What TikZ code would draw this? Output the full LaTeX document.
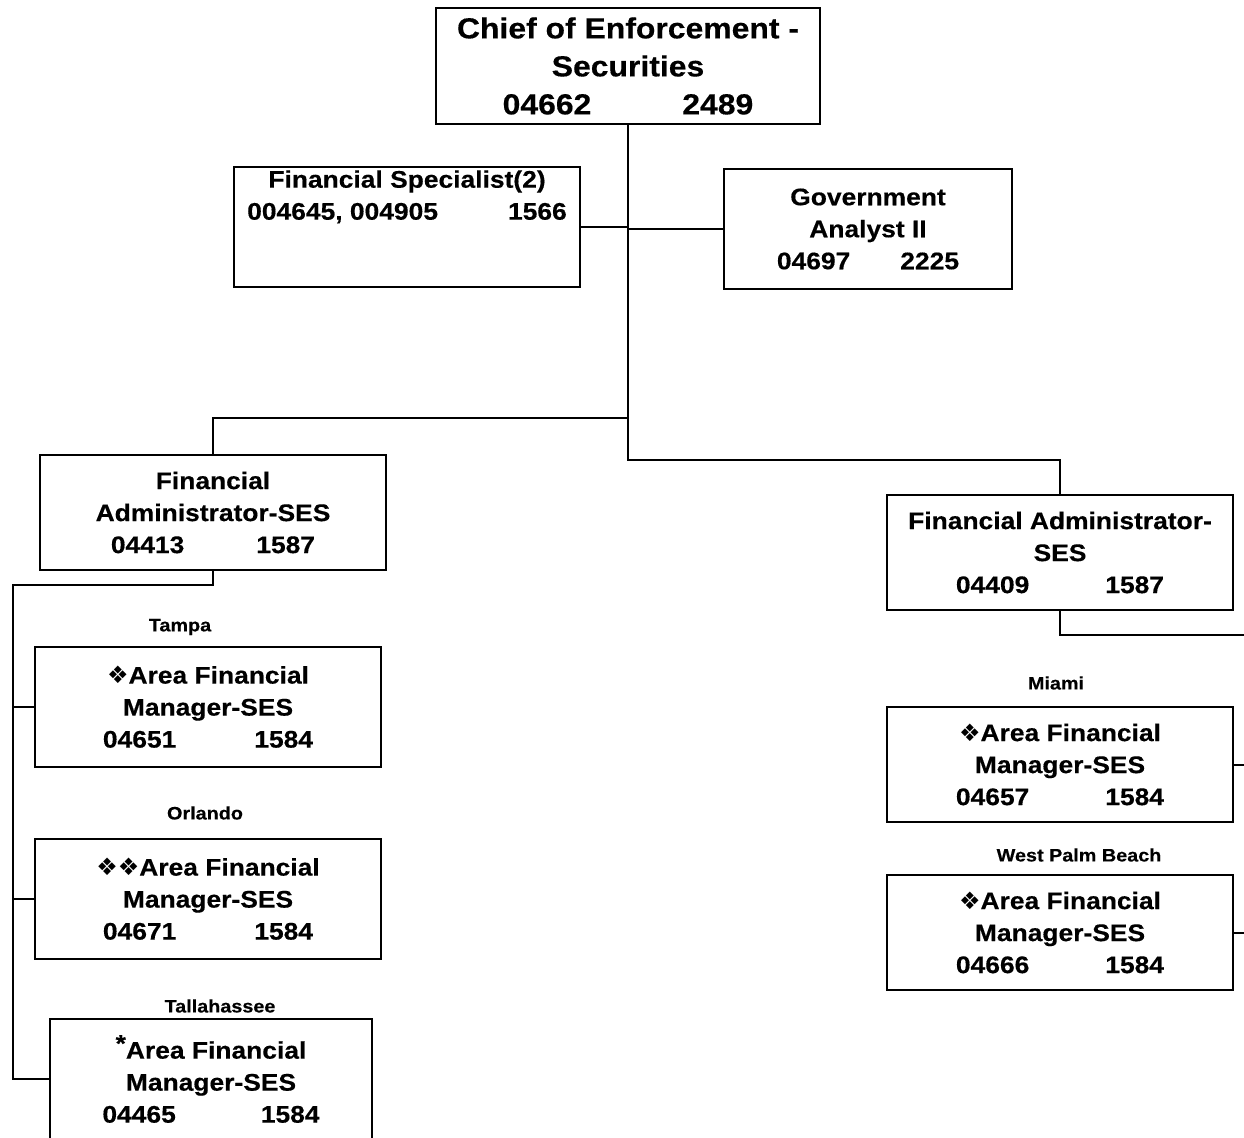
\documentclass[tikz,border=0pt]{standalone}
\usepackage{fontspec}
\setmainfont{Liberation Sans}[FakeStretch=1.1,FakeBold=0.4]
\newfontfamily\dingfont{DejaVu Sans}
\usetikzlibrary{calc}

\newcommand{\dia}{\smash{\dingfont\fontsize{24}{24}\selectfont ❖}}
\newcommand{\codes}[3]{#1\hspace{#2pt}#3}

\begin{document}
\begin{tikzpicture}[x=1pt,y=-1pt,line width=2pt]
\tikzstyle{post}=[draw,line width=2pt,outer sep=0pt,inner sep=0pt,align=center,anchor=north west,minimum width=346pt,minimum height=115pt,font=\fontsize{24}{32}\selectfont\bfseries]
\tikzstyle{city}=[font=\fontsize{18}{20}\selectfont\bfseries]

\useasboundingbox (0,0) rectangle (1244,1137);

\node (chief) [post,minimum width=384pt,minimum height=116pt,font=\fontsize{29}{38}\selectfont\bfseries] at (436,8) {Chief of Enforcement -\\Securities\\\codes{04662}{91}{2489}};

\node (spec) [post,minimum height=120pt] at (234,167) {Financial Specialist(2)\\\codes{004645, 004905}{70}{1566}\\\mbox{}\\\mbox{}};
\node (gov) [post,minimum width=288pt,minimum height=120pt] at (724,169) {Government\\Analyst II\\\codes{04697}{50}{2225}};

\node (finL) [post] at (40,455) {Financial\\Administrator-SES\\\codes{04413}{72}{1587}};
\node (finR) [post] at (887,495) {Financial Administrator-\\SES\\\codes{04409}{76}{1587}};

\node (tampa) [post,minimum height=120pt] at (35,647) {\dia Area Financial\\Manager-SES\\\codes{04651}{78}{1584}};
\node (orlando) [post,minimum height=120pt] at (35,839) {\dia\dia Area Financial\\Manager-SES\\\codes{04671}{78}{1584}};
\node (tal) [post,minimum width=322pt,minimum height=120pt] at (50,1019) {\raisebox{7pt}{*}Area Financial\\Manager-SES\\\codes{04465}{85}{1584}};
\node (miami) [post] at (887,707) {\dia Area Financial\\Manager-SES\\\codes{04657}{76}{1584}};
\node (wpb) [post] at (887,875) {\dia Area Financial\\Manager-SES\\\codes{04666}{76}{1584}};

\node (cTampa) [city] at (180,627) {Tampa};
\node (cOrlando) [city] at (205,813) {Orlando};
\node (cTal) [city] at (220,1006) {Tallahassee};
\node (cMiami) [city] at (1056,683) {Miami};
\node (cWpb) [city] at (1079,855) {West Palm Beach};

\coordinate (busL) at (213,418);
\coordinate (busR) at (1060,460);
\coordinate (spineL) at (13,585);
\coordinate (spineR) at (1252,635);

\draw (chief.south) -- (chief.south |- busR) -| (finR.north);
\draw (chief.south |- busL) -| (finL.north);
\draw (spec.east) -- (spec.east -| chief.south);
\draw (gov.west) -- (gov.west -| chief.south);

\draw (finL.south) |- (spineL) -- (spineL |- tal.west) -- (tal.west);
\draw (spineL |- tampa.west) -- (tampa.west);
\draw (spineL |- orlando.west) -- (orlando.west);

\draw (finR.south) |- (spineR) -- (spineR |- wpb.east) -- (wpb.east);
\draw (miami.east) -- (miami.east -| spineR);

\end{tikzpicture}
\end{document}
